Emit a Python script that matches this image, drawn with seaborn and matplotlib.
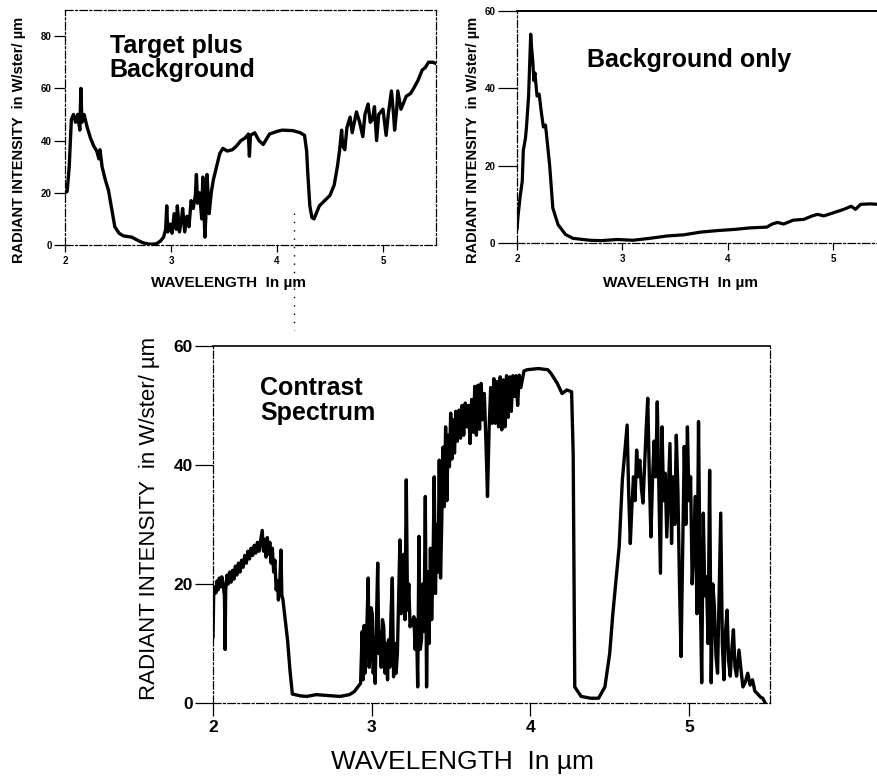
import matplotlib
matplotlib.use("Agg")
import matplotlib.pyplot as plt
import seaborn as sns
import pandas as pd
from matplotlib.lines import Line2D

sns.set_style("ticks")
plt.rcParams['font.family'] = ['Liberation Sans', 'DejaVu Sans']
for k in ['text.color', 'axes.labelcolor', 'xtick.color', 'ytick.color', 'axes.edgecolor']:
    plt.rcParams[k] = 'black'

# ---------------- data ----------------
tpb_wl = [2.00, 2.02, 2.04, 2.06, 2.08, 2.10, 2.12, 2.14, 2.15, 2.16, 2.18, 2.21, 2.24, 2.27,
          2.30, 2.32, 2.33, 2.35, 2.38, 2.41, 2.44, 2.47, 2.51, 2.55, 2.63, 2.70, 2.74, 2.80,
          2.86, 2.90, 2.93, 2.95, 2.96, 2.97, 2.99, 3.01, 3.03, 3.05, 3.06, 3.08, 3.10, 3.11,
          3.13, 3.15, 3.17, 3.19, 3.21, 3.23, 3.24, 3.25, 3.27, 3.29, 3.30, 3.32, 3.33, 3.34,
          3.36, 3.38, 3.40, 3.43, 3.46, 3.49, 3.53, 3.58, 3.62, 3.66, 3.70, 3.73, 3.74, 3.75,
          3.79, 3.83, 3.87, 3.93, 4.00, 4.05, 4.15, 4.22, 4.26, 4.28, 4.29, 4.31, 4.33, 4.35,
          4.37, 4.40, 4.45, 4.50, 4.54, 4.57, 4.59, 4.61, 4.62, 4.64, 4.66, 4.69, 4.71, 4.73,
          4.75, 4.78, 4.81, 4.83, 4.86, 4.88, 4.90, 4.92, 4.94, 4.96, 5.00, 5.03, 5.05, 5.08,
          5.10, 5.11, 5.13, 5.14, 5.17, 5.20, 5.22, 5.26, 5.29, 5.33, 5.37, 5.40, 5.43, 5.47, 5.50]
tpb_int = [20, 20.5, 30, 48, 50, 47, 50, 44, 60, 47, 50, 45, 41, 38,
           36, 33, 36.5, 30, 25, 21, 14, 7, 4.5, 3.5, 3, 1.5, 0.8, 0.3,
           0.4, 1.5, 3, 6, 15, 5, 8, 4.5, 12, 6, 15, 5, 10, 14,
           5, 11, 7, 17, 14, 19, 27, 16, 20, 10, 26, 3, 12, 27,
           12, 20, 25, 30, 35, 37, 36, 36.5, 38, 40, 41, 42.5, 34, 42,
           43, 40, 38.5, 42.5, 43.5, 44, 43.8, 43, 42, 36, 28, 15, 10.5, 10,
           12, 15, 17, 19, 23, 30, 36, 44, 38, 36.5, 45, 49, 43, 47,
           51, 47, 41.5, 50, 54, 47, 48, 53, 40, 50, 52, 42, 50, 59,
           50, 44, 52, 59, 52, 55, 57, 58, 60, 63, 67, 68, 70, 70, 69.5]

bg_wl = [2.00, 2.01, 2.03, 2.05, 2.06, 2.08, 2.09, 2.11, 2.12, 2.13, 2.14, 2.15, 2.16, 2.17,
         2.19, 2.21, 2.23, 2.25, 2.27, 2.28, 2.31, 2.34, 2.39, 2.46, 2.53, 2.69, 2.80, 2.95,
         3.10, 3.26, 3.42, 3.58, 3.74, 3.90, 4.06, 4.21, 4.37, 4.42, 4.47, 4.53, 4.62, 4.72,
         4.80, 4.85, 4.91, 5.00, 5.10, 5.17, 5.21, 5.26, 5.35, 5.42, 5.50]
bg_int = [3.4, 7, 12, 16, 24, 27, 30, 38, 46, 54, 50, 47, 42, 44,
          38, 38.5, 34, 30, 30.5, 28, 20, 9, 4.7, 2.2, 1.2, 0.7, 0.6, 0.9,
          0.7, 1.2, 1.8, 2.1, 2.8, 3.2, 3.5, 3.9, 4.1, 4.9, 5.3, 4.9, 5.9, 6.1,
          7.0, 7.4, 7.0, 7.8, 8.7, 9.5, 8.7, 10.0, 10.1, 10.0, 10.0]

con_wl = [
    2.000, 2.004, 2.010, 2.018, 2.025, 2.032, 2.040, 2.048, 2.056, 2.064,
    2.072, 2.076, 2.080, 2.088, 2.096, 2.105, 2.114, 2.123, 2.132, 2.141,
    2.150, 2.160, 2.170, 2.180, 2.190, 2.200, 2.210, 2.220, 2.230, 2.240,
    2.250, 2.260, 2.270, 2.280, 2.290, 2.300, 2.310, 2.318, 2.326, 2.334,
    2.342, 2.350, 2.358, 2.366, 2.374, 2.382, 2.390, 2.398, 2.406, 2.412,
    2.420, 2.428, 2.434, 2.440, 2.455, 2.470, 2.485, 2.500,
    2.55, 2.59, 2.65, 2.70, 2.75, 2.80, 2.86, 2.89, 2.93,
    2.940, 2.946, 2.952, 2.958, 2.965, 2.972, 2.978, 2.984, 2.990, 2.996,
    3.004, 3.010, 3.016, 3.022, 3.030, 3.038, 3.045, 3.052, 3.060, 3.068,
    3.076, 3.084, 3.092, 3.100, 3.106, 3.114, 3.122, 3.130, 3.138, 3.146,
    3.154, 3.162, 3.170, 3.178, 3.186, 3.194, 3.202, 3.210, 3.218, 3.226,
    3.234, 3.242, 3.250, 3.258, 3.266, 3.274, 3.282, 3.290, 3.298, 3.306,
    3.314, 3.322, 3.330, 3.338, 3.346, 3.354, 3.362, 3.370, 3.378, 3.386,
    3.394, 3.402, 3.410, 3.418, 3.426, 3.434, 3.442, 3.450, 3.458, 3.466,
    3.474, 3.482, 3.490, 3.498, 3.506, 3.514, 3.522, 3.530, 3.540, 3.550,
    3.560, 3.570, 3.580, 3.590, 3.600, 3.610, 3.620, 3.630, 3.640, 3.650,
    3.660, 3.670, 3.680, 3.690, 3.700, 3.710, 3.720, 3.730, 3.740, 3.750,
    3.760, 3.770, 3.780, 3.790, 3.800, 3.810, 3.820, 3.830, 3.840, 3.850,
    3.860, 3.870, 3.880, 3.890, 3.900, 3.910, 3.920, 3.930, 3.940, 3.960,
    3.98, 4.05, 4.11, 4.13, 4.17, 4.20, 4.23, 4.26, 4.27, 4.28,
    4.32, 4.38, 4.43, 4.47, 4.50, 4.52, 4.54, 4.56, 4.58,
    4.595, 4.610, 4.620, 4.630, 4.640, 4.650, 4.660, 4.670, 4.680, 4.690,
    4.700, 4.710, 4.720, 4.730, 4.740, 4.750, 4.760, 4.770, 4.780, 4.790,
    4.800, 4.810, 4.820, 4.830, 4.840, 4.850, 4.860, 4.870, 4.880, 4.890,
    4.900, 4.910, 4.920, 4.930, 4.940, 4.950, 4.960, 4.970, 4.980, 4.990,
    5.000, 5.010, 5.020, 5.030, 5.040, 5.050, 5.060, 5.070, 5.080, 5.090,
    5.100, 5.110, 5.120, 5.130, 5.140, 5.150, 5.160, 5.170, 5.180, 5.190,
    5.200, 5.210, 5.220, 5.230, 5.240, 5.250, 5.260, 5.270, 5.280, 5.290,
    5.300, 5.315, 5.330, 5.340, 5.355, 5.370, 5.385, 5.400, 5.415, 5.430,
    5.450, 5.465, 5.480]
con_int = [
    11, 18, 19.5, 18.5, 20.5, 19, 21, 19.5, 21.2, 19.8,
    18, 9, 19, 21.5, 20, 22, 20.3, 22.3, 20.8, 23,
    21.5, 23.5, 22, 24, 22.8, 24.8, 23.5, 25.5, 24.2, 26,
    24.8, 26.5, 25.2, 27, 25.5, 27.2, 29, 25.5, 27.5, 24.5,
    27.8, 25, 27, 23.5, 26, 22, 24, 19, 20.5, 17.3,
    19.5, 25.7, 18, 17.5, 14, 10.5, 5.5, 1.5,
    1.2, 1.1, 1.4, 1.3, 1.2, 1.1, 1.4, 1.9, 3.3,
    12, 3.9, 13, 5, 9, 15, 21, 6, 8, 16,
    15, 5, 11, 3.3, 13, 23.5, 8.3, 12, 6, 14,
    12.8, 5, 10, 3.9, 10.6, 6, 15, 21, 4.4, 10,
    5, 8.3, 18, 27.4, 15, 20, 25, 14, 37.5, 15.6,
    20, 12.8, 14, 13, 14.5, 9, 14, 2.7, 28, 9,
    10.6, 20, 12, 34.7, 2.7, 22, 10, 26, 14, 22,
    38, 18.4, 30, 22, 40.8, 21, 30.8, 43, 33, 46.4,
    34, 45, 39.7, 48.7, 41, 47.6, 42, 49, 44, 49.2,
    44.5, 50, 45, 50.4, 46.4, 50, 43.6, 51, 45.5, 53.2,
    45, 53.4, 46, 53.7, 47.6, 52, 44, 34.7, 46, 53,
    47, 54.5, 47, 54, 46.4, 54.8, 45.9, 54.3, 46.4, 55,
    48, 54.8, 49, 55, 51.5, 55, 50, 55.1, 53, 55.8,
    56, 56.2, 56, 55.4, 53.7, 52, 52.6, 52.3, 41.9, 2.7,
    1.1, 0.8, 0.8, 2.7, 8.3, 15, 20.7, 26.3, 37.5,
    42, 46.7, 35, 26.8, 33, 38, 34, 42.5, 38, 40.8,
    36, 33.6, 40, 46, 51.2, 38, 27.9, 37.5, 44, 38,
    50.6, 36, 21.8, 46.4, 34, 38.6, 27.9, 36, 43.6, 26.8,
    38, 30, 45, 35.8, 20, 7.8, 25, 43.1, 30, 46.4,
    34, 38, 20, 26.3, 34.7, 15, 47.3, 20, 3.4, 31.9,
    18, 21.2, 10, 39.1, 3.4, 20, 16.2, 8, 5, 18,
    31.9, 10, 3.9, 12, 15.6, 7, 4.5, 9, 12.3, 6,
    4.5, 8.9, 5, 2.7, 3.5, 5, 3, 3.9, 2, 1.6,
    1.0, 0.8, 0]

top_x_ticks = [2, 3, 4, 5]
tpb_y_ticks = [0, 20, 40, 60, 80]
bg_y_ticks = [0, 20, 40, 60]
con_y_ticks = [0, 20, 40, 60]

ylabel_text = "RADIANT INTENSITY  in W/ster/ \u00b5m"
xlabel_text = "WAVELENGTH  In \u00b5m"

# ---------------- figure ----------------
fig = plt.figure(figsize=(8.77, 7.83), dpi=100)
fig.patch.set_facecolor("white")

ax1 = fig.add_axes([0.0741, 0.6871, 0.423, 0.3001])
ax2 = fig.add_axes([0.5895, 0.6897, 0.4208, 0.2963])
ax3 = fig.add_axes([0.2429, 0.1022, 0.635, 0.456])

dashdot = (0, (6, 2, 1.5, 2))

def style_axes(ax, xticks, yticks, ylim, xlim, tsize, ylen, xlen, top_solid=False):
    for s in ['left', 'right', 'top', 'bottom']:
        ax.spines[s].set_visible(True)
        ax.spines[s].set_color('black')
        ax.spines[s].set_linewidth(0.9)
        ax.spines[s].set_linestyle(dashdot)
    if top_solid:
        ax.spines['top'].set_linestyle('-')
        ax.spines['top'].set_linewidth(1.4)
    ax.set_xlim(*xlim)
    ax.set_ylim(*ylim)
    ax.set_xticks(xticks, [str(t) for t in xticks], fontweight='bold', fontsize=tsize)
    ax.set_yticks(yticks, [str(t) for t in yticks], fontweight='bold', fontsize=tsize)
    ax.tick_params(axis='y', direction='out', length=ylen, width=0.9, pad=1.5)
    ax.tick_params(axis='x', direction='out', length=xlen, width=0.9, pad=3)
    ax.set_xlabel("")
    ax.set_ylabel("")
    ax.set_facecolor('white')

sns.lineplot(data=pd.DataFrame({"wl": tpb_wl, "I": tpb_int}), x="wl", y="I", ax=ax1,
             color="black", lw=2.4, estimator=None, sort=False, solid_joinstyle='round')
sns.lineplot(data=pd.DataFrame({"wl": bg_wl, "I": bg_int}), x="wl", y="I", ax=ax2,
             color="black", lw=2.3, estimator=None, sort=False, solid_joinstyle='round')
sns.lineplot(data=pd.DataFrame({"wl": con_wl, "I": con_int}), x="wl", y="I", ax=ax3,
             color="black", lw=2.4, estimator=None, sort=False, solid_joinstyle='round')

style_axes(ax1, top_x_ticks, tpb_y_ticks, (0, 90), (2, 5.5), 7, 8, 5)
style_axes(ax2, top_x_ticks, bg_y_ticks, (0, 60), (2, 5.5), 7, 14, 5, top_solid=True)
style_axes(ax3, top_x_ticks, con_y_ticks, (0, 60), (2, 5.51), 12.5, 13, 9, top_solid=True)
ax3.spines['top'].set_linewidth(1.2)

# panel titles
ax1.text(0.121, 0.9, "Target plus\nBackground", transform=ax1.transAxes, ha='left', va='top',
         fontsize=18, fontweight='bold', linespacing=1.05)
ax2.text(0.19, 0.84, "Background only", transform=ax2.transAxes, ha='left', va='top',
         fontsize=18, fontweight='bold')
ax3.text(0.084, 0.915, "Contrast\nSpectrum", transform=ax3.transAxes, ha='left', va='top',
         fontsize=18, fontweight='bold', linespacing=1.05)

# axis labels
fig.text(0.0217, 0.821, ylabel_text, rotation=90, ha='center', va='center',
         fontsize=10.5, fontweight='bold')
fig.text(0.539, 0.821, ylabel_text, rotation=90, ha='center', va='center',
         fontsize=10.5, fontweight='bold')
fig.text(0.171, 0.338, ylabel_text, rotation=90, ha='center', va='center', fontsize=16)
fig.text(0.26, 0.639, xlabel_text, ha='center', va='center', fontsize=11, fontweight='bold')
fig.text(0.7765, 0.639, xlabel_text, ha='center', va='center', fontsize=11, fontweight='bold')
fig.text(0.527, 0.027, xlabel_text, ha='center', va='center', fontsize=19)

# dotted scan mark between panels
fig.add_artist(Line2D([294 / 877, 294 / 877], [1 - 213 / 783, 1 - 330 / 783],
                      transform=fig.transFigure, ls=(0, (1, 5)), color='black', lw=1))

fig.savefig("out.png", dpi=100, facecolor="white")
